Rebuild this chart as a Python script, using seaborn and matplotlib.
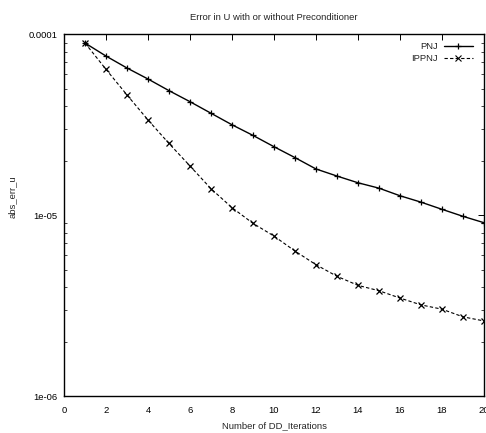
import matplotlib
matplotlib.use("Agg")
import matplotlib.pyplot as plt
import matplotlib.ticker as mticker
from matplotlib.lines import Line2D
import numpy as np
import pandas as pd
import seaborn as sns

iterations = list(range(1, 21))
pnj = [8.95e-5, 7.58e-5, 6.51e-5, 5.66e-5, 4.88e-5, 4.24e-5, 3.66e-5, 3.16e-5,
       2.76e-5, 2.39e-5, 2.08e-5, 1.80e-5, 1.645e-5, 1.51e-5, 1.41e-5, 1.28e-5,
       1.18e-5, 1.077e-5, 9.85e-6, 9.08e-6]
ippnj = [8.95e-5, 6.40e-5, 4.62e-5, 3.36e-5, 2.49e-5, 1.87e-5, 1.40e-5, 1.10e-5,
         9.01e-6, 7.66e-6, 6.33e-6, 5.32e-6, 4.59e-6, 4.09e-6, 3.82e-6, 3.48e-6,
         3.19e-6, 3.02e-6, 2.74e-6, 2.60e-6]
series_names = ["PNJ", "IPPNJ"]
x_ticks = list(range(0, 21, 2))
y_ticks = [1e-6, 1e-5, 1e-4]
y_tick_labels = ["1e-06", "1e-05", "0.0001"]

df = pd.DataFrame({
    "iter": iterations * 2,
    "err": pnj + ippnj,
    "method": [series_names[0]] * len(pnj) + [series_names[1]] * len(ippnj),
})

sns.set_style("white")
plt.rcParams["font.family"] = ["Liberation Sans", "DejaVu Sans"]
plt.rcParams["font.size"] = 6.8

fig = plt.figure(figsize=(4.86, 4.33), dpi=100)
ax = fig.add_axes([64 / 486, 37 / 433, 420 / 486, 361.7 / 433])

sns.lineplot(data=df, x="iter", y="err", hue="method", style="method",
             palette=["black", "black"], dashes={"PNJ": "", "IPPNJ": (3, 2)},
             markers={"PNJ": "+", "IPPNJ": "x"}, ax=ax, legend=False)
for line, lw, ms in zip(ax.lines, [1.0, 0.8], [4.0, 4.0]):
    line.set_linewidth(lw)
    line.set_markeredgecolor("black")
    line.set_markerfacecolor("black")
    line.set_markeredgewidth(0.9)
    line.set_markersize(ms)

ax.set_yscale("log")
ax.set_xlim(0, 20)
ax.set_ylim(1e-6, 1e-4)
ax.set_xticks(x_ticks)
ax.set_xticklabels([str(t) for t in x_ticks])
ax.set_yticks(y_ticks)
ax.set_yticklabels(y_tick_labels)
ax.yaxis.set_minor_locator(mticker.LogLocator(base=10, subs=np.arange(2, 10)))
ax.yaxis.set_minor_formatter(mticker.NullFormatter())

ax.tick_params(axis="both", which="major", direction="in", length=4, width=0.7,
               top=True, right=True, labelsize=6.8, colors="black")
ax.tick_params(axis="x", which="major", pad=7)
ax.tick_params(axis="y", which="major", pad=5)
ax.tick_params(axis="y", which="minor", direction="in", length=2.5, width=0.6,
               left=True, right=True)
for s in ax.spines.values():
    s.set_linewidth(1.0)
    s.set_color("black")

ax.set_xlabel("Number of DD_Iterations", fontsize=6.8, labelpad=5)
ax.set_ylabel("abs_err_u", fontsize=6.8)
ax.yaxis.set_label_coords(-0.113, 0.55)
ax.set_title("Error in U with or without Preconditioner", fontsize=6.8, pad=10)

handles = [
    Line2D([], [], color="black", lw=1.0, marker="+", markersize=4, markeredgewidth=0.9),
    Line2D([], [], color="black", lw=0.8, ls=(0, (3, 2)), marker="x", markersize=4, markeredgewidth=0.8),
]
leg = ax.legend(handles, series_names, loc="upper right", frameon=False,
                markerfirst=False, fontsize=6.8, handlelength=3.1,
                handletextpad=0.6, labelspacing=0.3,
                bbox_to_anchor=((472 - 64) / 420 + 0.002, 1.0 - 8 / 361.7),
                borderaxespad=0.0, borderpad=0.0)
for t in leg.get_texts():
    t.set_ha("right")

fig.savefig("out.png", dpi=100)
